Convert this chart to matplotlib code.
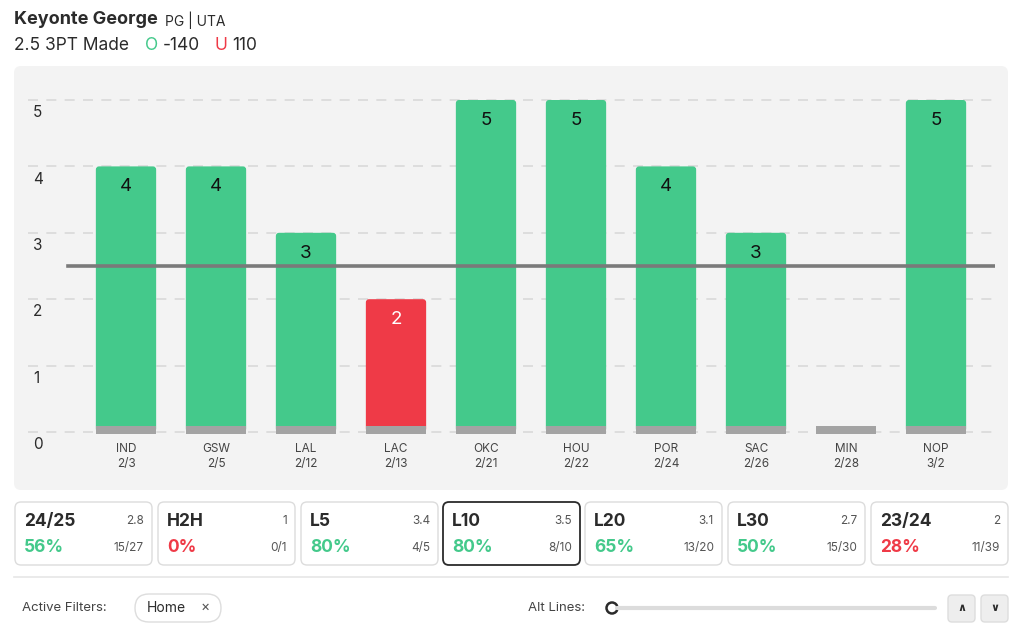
import matplotlib.pyplot as plt
from matplotlib.patches import FancyBboxPatch, Circle
import numpy as np

plt.rcParams['font.family'] = ['Inter', 'DejaVu Sans']

# chart data
teams = ['IND', 'GSW', 'LAL', 'LAC', 'OKC', 'HOU', 'POR', 'SAC', 'MIN', 'NOP']
dates = ['2/3', '2/5', '2/12', '2/13', '2/21', '2/22', '2/24', '2/26', '2/28', '3/2']
made = [4, 4, 3, 2, 5, 5, 4, 3, 0, 5]
prop_line = 2.5
yticks = [0, 1, 2, 3, 4, 5]

# summary tiles
tile_names = ['24/25', 'H2H', 'L5', 'L10', 'L20', 'L30', '23/24']
tile_avg = ['2.8', '1', '3.4', '3.5', '3.1', '2.7', '2']
tile_pct = [56, 0, 80, 80, 65, 50, 28]
tile_frac = ['15/27', '0/1', '4/5', '8/10', '13/20', '15/30', '11/39']
selected = 'L10'

GREEN = '#44c98b'
RED = '#ef3a47'
GREY = '#a3a3a3'
DARK = '#2b2b2b'

W, H = 1024, 632
fig = plt.figure(figsize=(W / 100, H / 100), dpi=100)
fig.patch.set_facecolor('white')


def px_rect(l, t, r, b):
    return [l / W, 1 - b / H, (r - l) / W, (b - t) / H]


# overlay in pixel coords for the ui parts
ov = fig.add_axes([0, 0, 1, 1])
ov.set_xlim(0, W)
ov.set_ylim(H, 0)
ov.axis('off')

ov.add_patch(FancyBboxPatch((14, 66), 994, 424, boxstyle='round,pad=0,rounding_size=7',
                            fc='#f3f3f3', ec='none'))

# header
ov.text(14, 19, 'Keyonte George', fontsize=13, fontweight='bold', color=DARK, va='center')
ov.text(165, 20, 'PG | UTA', fontsize=10, color=DARK, va='center')
ov.text(14, 46, '2.5 3PT Made', fontsize=12.5, color=DARK, va='center')
ov.text(145, 46, 'O', fontsize=12.5, color=GREEN, va='center')
ov.text(163, 46, '-140', fontsize=12.5, color=DARK, va='center')
ov.text(215, 46, 'U', fontsize=12.5, color=RED, va='center')
ov.text(232, 46, '110', fontsize=12.5, color=DARK, va='center')

# chart axes
ax = fig.add_axes(px_rect(28, 80, 995, 440))
ax.patch.set_alpha(0)
x = np.arange(len(teams))
ax.set_xlim((28 - 126) / 90, (995 - 126) / 90)
ax.set_ylim((432 - 440) / 66.4, (432 - 80) / 66.4)
for s in ax.spines.values():
    s.set_visible(False)
ax.set_xticks([])
ax.set_yticks([])

for t in yticks:
    ax.axhline(t, color='#d9d9d9', lw=1.2, dashes=(6, 5), zorder=0)
    ax.text(0.005, t - 0.19, str(t), transform=ax.get_yaxis_transform(),
            fontsize=11, color=DARK, va='center', ha='left')

colors = [GREEN if v > prop_line else RED for v in made]
bars = ax.bar(x, made, width=0.67, color=colors, zorder=2)
# swap plain rectangles for ones with slightly rounded corners
for r in bars:
    if r.get_height() > 0:
        ax.add_patch(FancyBboxPatch(r.get_xy(), r.get_width(), r.get_height(),
                                    boxstyle='round,pad=0,rounding_size=0.035',
                                    mutation_aspect=90 / 66.4,
                                    fc=r.get_facecolor(), ec='none', zorder=2))
    r.set_visible(False)
ax.bar(x, 0.11, bottom=-0.025, width=0.67, color=GREY, zorder=3)

for xi, v, c in zip(x, made, colors):
    if v > 0:
        ax.text(xi, v - 0.31, str(v), ha='center', va='center', fontsize=13.5,
                color='white' if c == RED else '#111111', zorder=4)

ax.axhline(prop_line, xmin=(68 - 28) / 967, xmax=1.0, color='#7a7a7a', lw=2.6, zorder=3)

for xi, tm, d in zip(x, teams, dates):
    ax.text(xi, -0.25, tm, ha='center', va='center', fontsize=8.5, color='#444444')
    ax.text(xi, -0.48, d, ha='center', va='center', fontsize=8.5, color='#444444')

# tiles
tile_left = [15, 158, 301, 443, 585, 728, 871]
for left, name, avg, pct, frac in zip(tile_left, tile_names, tile_avg, tile_pct, tile_frac):
    sel = name == selected
    ov.add_patch(FancyBboxPatch((left, 502), 137, 63, boxstyle='round,pad=0,rounding_size=6',
                                fc='white', ec=DARK if sel else '#dcdcdc', lw=1.3 if sel else 1))
    ov.text(left + 9, 521, name, fontsize=12.5, fontweight='bold', color=DARK, va='center')
    ov.text(left + 129, 521, avg, fontsize=8.5, color='#555555', va='center', ha='right')
    ov.text(left + 9, 548, f'{pct}%', fontsize=12.5, fontweight='bold',
            color=GREEN if pct >= 50 else RED, va='center')
    ov.text(left + 129, 548, frac, fontsize=8.5, color='#555555', va='center', ha='right')

ov.plot([14, 1008], [577, 577], color='#e6e6e6', lw=1.2)

# filter row
ov.text(22, 608, 'Active Filters:', fontsize=9.5, color='#444444', va='center')
ov.add_patch(FancyBboxPatch((135, 594), 86, 28, boxstyle='round,pad=0,rounding_size=14',
                            fc='white', ec='#dddddd', lw=1))
ov.text(147, 608, 'Home', fontsize=10, color=DARK, va='center')
ov.text(201, 607, '×', fontsize=10, color='#555555', va='center')
ov.text(528, 608, 'Alt Lines:', fontsize=9.5, color='#444444', va='center')
ov.plot([617, 935], [608, 608], color='#dcdcdc', lw=3, solid_capstyle='round')
ov.add_patch(Circle((612, 608), 5.5, fc='white', ec=DARK, lw=1.8))
for bx, sym in [(948, '∧'), (981, '∨')]:
    ov.add_patch(FancyBboxPatch((bx, 595), 27, 27, boxstyle='round,pad=0,rounding_size=4',
                                fc='#eeeeee', ec='#dddddd', lw=1))
    ov.text(bx + 13.5, 608, sym, fontsize=8, fontweight='bold', color=DARK,
            ha='center', va='center', family='DejaVu Sans')

fig.savefig('out.png', dpi=100)
